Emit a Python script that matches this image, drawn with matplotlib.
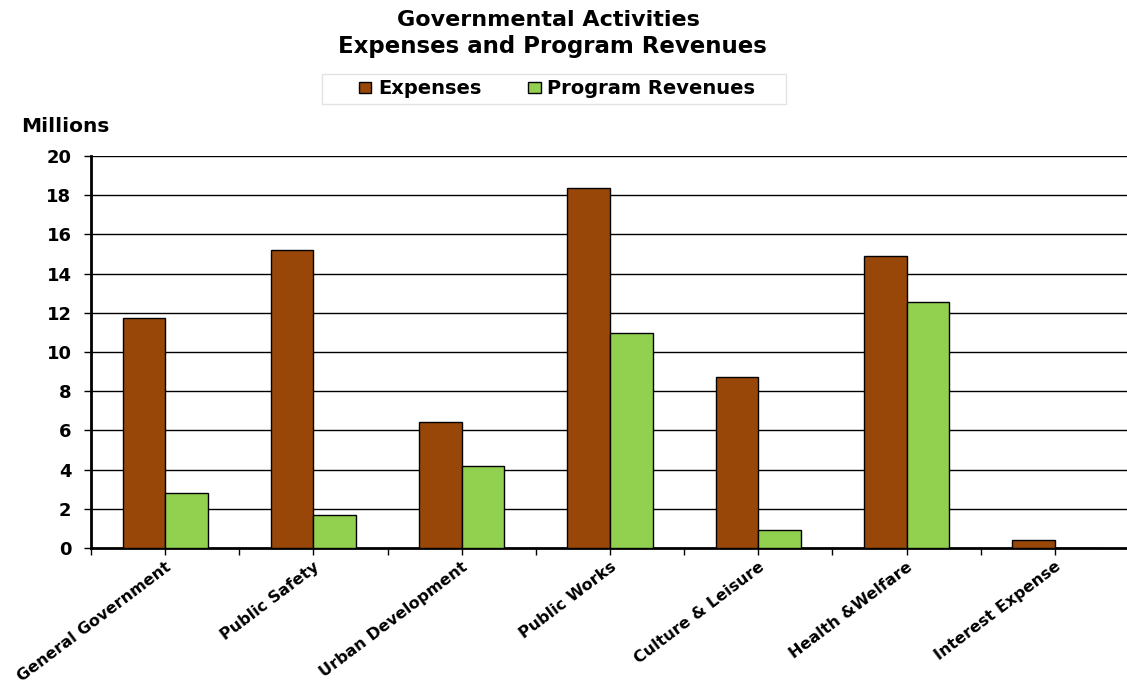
import matplotlib
matplotlib.use("Agg")
import matplotlib.pyplot as plt
from matplotlib.patches import Rectangle
import numpy as np

categories = ["General Government", "Public Safety", "Urban Development", "Public Works",
              "Culture & Leisure", "Health &Welfare", "Interest Expense"]
expenses = [11.75, 15.2, 6.45, 18.35, 8.75, 14.9, 0.4]
revenues = [2.8, 1.7, 4.2, 10.95, 0.9, 12.55, 0.0]
yticks = [0, 2, 4, 6, 8, 10, 12, 14, 16, 18, 20]

plt.rcParams['font.family'] = ['DejaVu Sans']
plt.rcParams['font.weight'] = 'bold'

W, H = 1127, 683
fig = plt.figure(figsize=(W / 100, H / 100), dpi=100)
x0, x1, y0, y1 = 91, 1129, 156, 548
ax = fig.add_axes([x0 / W, 1 - y1 / H, (x1 - x0) / W, (y1 - y0) / H])

x = np.arange(len(categories))
bw = 0.287
ax.bar(x - bw / 2, expenses, bw, color='#994709', edgecolor='black', linewidth=1,
       label='Expenses', zorder=3)
ax.bar(x + bw / 2, revenues, bw, color='#92D050', edgecolor='black', linewidth=1,
       label='Program Revenues', zorder=3)

ax.set_xlim(-0.5, len(categories) - 0.5)
ax.set_ylim(0, 20)
ax.set_yticks(yticks)
ax.set_yticklabels([str(v) for v in yticks], fontsize=13, fontweight='bold')
for v in yticks[1:]:
    ax.axhline(v, color='black', linewidth=1, zorder=1)

ax.set_xticks(x)
ax.set_xticklabels(categories, rotation=37, ha='right', va='top', fontsize=11.5,
                   fontweight='bold', rotation_mode='anchor')
ax.set_xticks(np.arange(len(categories) + 1) - 0.5, minor=True)
ax.tick_params(axis='x', which='both', length=5, width=1, pad=3, direction='out')
ax.tick_params(axis='y', length=5, width=1, pad=9)

for s in ['top', 'right']:
    ax.spines[s].set_visible(False)
ax.spines['left'].set_linewidth(2)
ax.spines['bottom'].set_linewidth(2)

fig.text(548 / W, 1 - 20 / H, "Governmental Activities", ha='center', va='center',
         fontsize=16, fontweight='bold')
fig.text(552 / W, 1 - 46 / H, "Expenses and Program Revenues", ha='center', va='center',
         fontsize=16.5, fontweight='bold')
fig.text(21 / W, 1 - 126 / H, "Millions", ha='left', va='center', fontsize=14.5,
         fontweight='bold')

fig.patches.append(Rectangle((322 / W, 1 - 104 / H), (786 - 322) / W, 30 / H,
                             transform=fig.transFigure, facecolor='white',
                             edgecolor='#e3e3e3', linewidth=1, zorder=0))
leg = fig.legend(loc='center', bbox_to_anchor=(557 / W, 1 - 89 / H), ncol=2, frameon=False,
                 fontsize=14, handlelength=0.65, handleheight=0.55, columnspacing=2.4,
                 handletextpad=0.35, borderpad=0.2, borderaxespad=0)
for t in leg.get_texts():
    t.set_fontweight('bold')

fig.savefig("out.png", dpi=100)
